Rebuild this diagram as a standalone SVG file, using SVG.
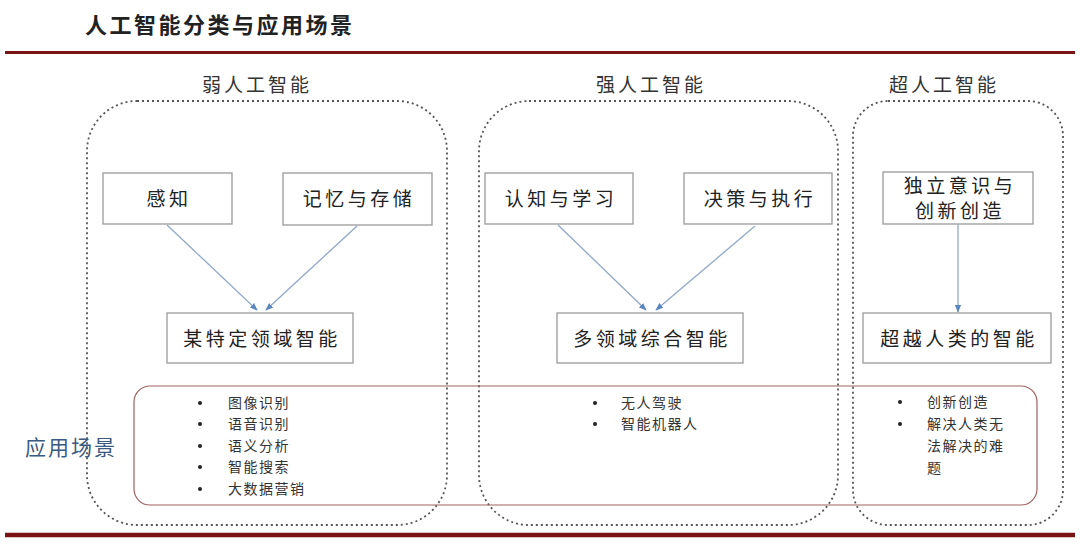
<svg xmlns="http://www.w3.org/2000/svg" width="1080" height="552" viewBox="0 0 1080 552">
<style>
.t{font-family:"Noto Sans CJK SC","Liberation Sans",sans-serif;fill:#222}
.title{font-size:22px;font-weight:bold;letter-spacing:2.5px}
.hdr{font-size:19px;letter-spacing:3px;text-anchor:middle;fill:#333}
.box{fill:#fff;stroke:#9a9a9a;stroke-width:1.3}
.bt{font-size:19px;letter-spacing:3.5px;text-anchor:middle}
.col{fill:none;stroke:#555;stroke-width:1.8;stroke-dasharray:2 3}
.app{fill:none;stroke:#a06060;stroke-width:1.2}
.li{font-size:14px;letter-spacing:1.5px;fill:#333}
.bul{fill:#222}
.conn{stroke:#90a8c8;stroke-width:1.3;fill:none;marker-end:url(#ah)}
.rule{stroke:#7a1414}
</style>
<defs>
<marker id="ah" viewBox="0 0 10 10" refX="9" refY="5" markerWidth="6" markerHeight="6" orient="auto">
<path d="M0,1 L10,5 L0,9 z" fill="#5a86c0"/>
</marker>
</defs>
<rect width="1080" height="552" fill="#fff"/>
<text class="t title" x="85" y="33">人工智能分类与应用场景</text>
<line class="rule" x1="5" y1="52.5" x2="1075" y2="52.5" stroke-width="3"/>
<line class="rule" x1="5" y1="535" x2="1075" y2="535" stroke-width="4.5"/>

<g id="col-weak">
<rect class="col" x="87" y="101" width="360" height="424" rx="50"/>
<text class="t hdr" x="257" y="92">弱人工智能</text>
</g>
<g id="col-strong">
<rect class="col" x="479" y="101" width="359" height="424" rx="50"/>
<text class="t hdr" x="651" y="92">强人工智能</text>
</g>
<g id="col-super">
<rect class="col" x="853" y="101" width="210" height="424" rx="35"/>
<text class="t hdr" x="944" y="92">超人工智能</text>
</g>

<g id="app-area">
<rect class="app" x="134" y="386" width="903" height="119" rx="16"/>
<text class="t" x="25" y="455" font-size="21" letter-spacing="2" fill="#3b5a80" style="fill:#3b5a80">应用场景</text>
</g>

<g id="n-ganzhi"><rect class="box" x="103" y="173" width="129" height="51"/><text class="t bt" x="169" y="206">感知</text></g>
<g id="n-jiyi"><rect class="box" x="283" y="173" width="149" height="52"/><text class="t bt" x="359" y="206">记忆与存储</text></g>
<g id="n-moute"><rect class="box" x="167" y="313" width="186" height="50"/><text class="t bt" x="262" y="346">某特定领域智能</text></g>

<g id="n-renzhi"><rect class="box" x="485" y="173" width="148" height="51"/><text class="t bt" x="561" y="206">认知与学习</text></g>
<g id="n-juece"><rect class="box" x="684" y="173" width="148" height="51"/><text class="t bt" x="760" y="206">决策与执行</text></g>
<g id="n-duolingyu"><rect class="box" x="557" y="313" width="186" height="50"/><text class="t bt" x="652" y="346">多领域综合智能</text></g>

<g id="n-duli"><rect class="box" x="883" y="172" width="150" height="52"/><text class="t bt" x="960" y="193">独立意识与</text><text class="t bt" x="960" y="218">创新创造</text></g>
<g id="n-chaoyue"><rect class="box" x="863" y="313" width="188" height="50"/><text class="t bt" x="959" y="346">超越人类的智能</text></g>

<g id="connectors">
<line class="conn" x1="167" y1="225" x2="257" y2="310"/>
<line class="conn" x1="357" y1="226" x2="266" y2="310"/>
<line class="conn" x1="558" y1="225" x2="646" y2="310"/>
<line class="conn" x1="755" y1="226" x2="656" y2="310"/>
<line class="conn" x1="958" y1="224" x2="958" y2="312"/>
</g>

<g id="list-weak">
<circle class="bul" cx="200" cy="403" r="2"/><text class="t li" x="228" y="408">图像识别</text>
<circle class="bul" cx="200" cy="424" r="2"/><text class="t li" x="228" y="429">语音识别</text>
<circle class="bul" cx="200" cy="446" r="2"/><text class="t li" x="228" y="451">语义分析</text>
<circle class="bul" cx="200" cy="467" r="2"/><text class="t li" x="228" y="472">智能搜索</text>
<circle class="bul" cx="200" cy="489" r="2"/><text class="t li" x="228" y="494">大数据营销</text>
</g>
<g id="list-strong">
<circle class="bul" cx="595" cy="403" r="2"/><text class="t li" x="621" y="408">无人驾驶</text>
<circle class="bul" cx="595" cy="424" r="2"/><text class="t li" x="621" y="429">智能机器人</text>
</g>
<g id="list-super">
<circle class="bul" cx="900" cy="402" r="2"/><text class="t li" x="927" y="407">创新创造</text>
<circle class="bul" cx="900" cy="424" r="2"/><text class="t li" x="927" y="429">解决人类无</text>
<text class="t li" x="927" y="451">法解决的难</text>
<text class="t li" x="927" y="473">题</text>
</g>
</svg>
